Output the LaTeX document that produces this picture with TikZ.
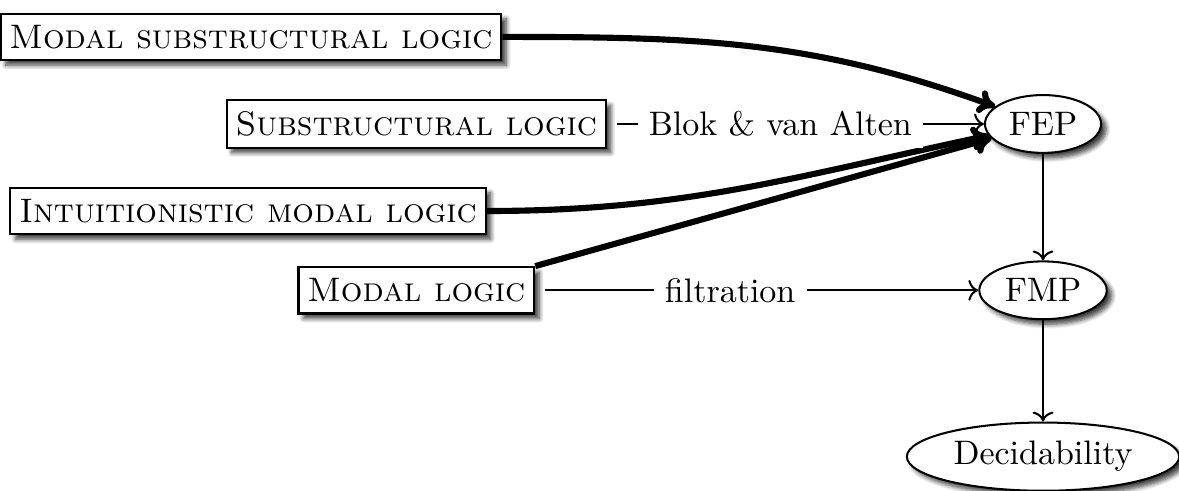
\documentclass[tikz,border=0pt]{standalone}
\usetikzlibrary{shapes.geometric, shadows.blur, positioning, arrows.meta}

\tikzset{
  soft shadow/.style = {blur shadow = {shadow xshift = 1.5pt, shadow yshift = -1.5pt,
      shadow blur radius = 1.3pt, shadow blur steps = 6, shadow opacity = 75}},
  logic/.style = {draw, semithick, fill = white, font = \scshape, inner xsep = 2.6pt, soft shadow},
  prop/.style = {ellipse, draw, semithick, fill = white, inner xsep = 2pt, inner ysep = 2.6pt, soft shadow},
  weak/.style = {->, semithick},
  strong/.style = {-{To[length = 5pt, width = 7pt]}, line width = 1.8pt},
  via/.style = {fill = white}
}

\begin{document}
\begin{tikzpicture} [node distance = 1.72cm, on grid]
			% Fixed page frame
			\useasboundingbox (-10.785,-3.795) rectangle (1.406,1.282);
			% Properties : everything is measured from FEP
			\node (fep) [prop] {FEP};
			\node (fmp) [prop, below = of fep] {FMP};
			\node (dec) [prop, below = of fmp] {Decidability};

			% Logics
			\node (msl) [logic, above left = 0.9cm and 8.19cm of fep] {Modal substructural logic};
			\node (sl) [logic, left = 6.48cm of fep] {Substructural logic};
			\node (iml) [logic, below left = 0.9cm and 8.22cm of fep] {Intuitionistic modal logic};
			\node (ml) [logic, left = 6.48cm of fmp] {Modal logic};

			% Draw Arrows/Connections
			\path [strong]
			(msl) edge [out = 0, in = 160] (fep)
			(iml) edge [out = 0, in = 192] (fep)
			(ml.north east) edge (fep);
			\path [weak]
			(sl) edge [shorten <= 3pt] node [via, pos = 0.46] {Blok \& van Alten} (fep)
			(ml) edge [shorten <= 3pt] node [via, pos = 0.44] {filtration} (fmp)
			(fep) edge (fmp)
			(fmp) edge (dec);
		\end{tikzpicture}
\end{document}
